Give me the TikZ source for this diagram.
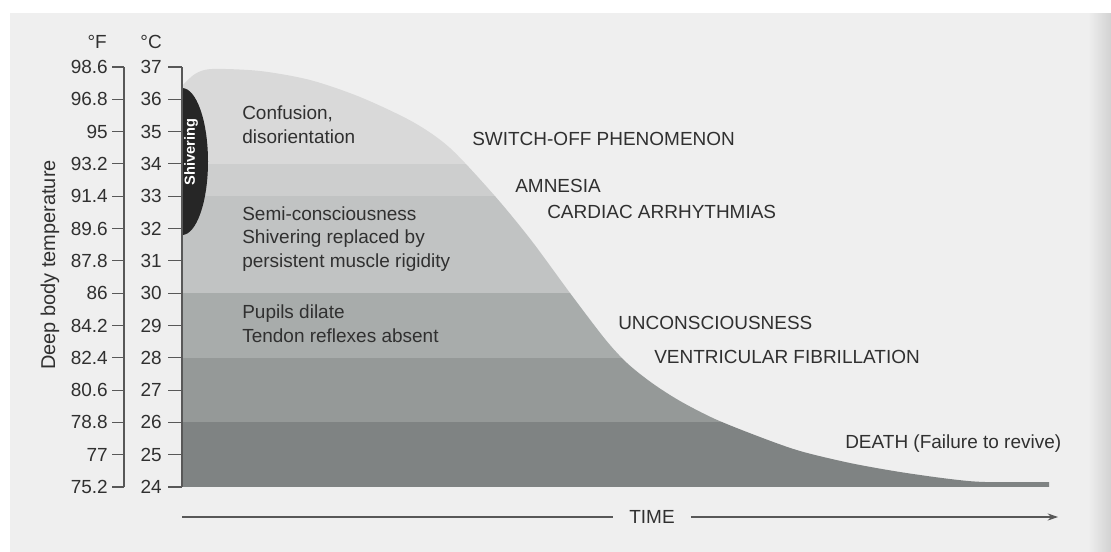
\documentclass[tikz,border=0pt]{standalone}
\usepackage{fontspec}
\setmainfont{Liberation Sans}
\usetikzlibrary{arrows.meta}

\definecolor{paper}{HTML}{EFEFEF}
\definecolor{edgegray}{HTML}{D2D2D2}
\definecolor{ink}{HTML}{303030}
\definecolor{axisgray}{HTML}{585858}
\definecolor{bandA}{HTML}{D9D9D9}
\definecolor{bandB}{HTML}{CDCECE}
\definecolor{bandC}{HTML}{C1C3C3}
\definecolor{bandD}{HTML}{A8ACAB}
\definecolor{bandE}{HTML}{959998}
\definecolor{bandF}{HTML}{7F8383}

\begin{document}
\begin{tikzpicture}[
    x=0.025cm,
    y=-0.025cm,
    >={Stealth[length=2.6mm,width=1.8mm]},
    font=\fontsize{13.5}{16.7}\selectfont,
    text=ink,
    axisline/.style={
        draw=axisgray,
        line width=0.8pt
    },
    tempnum/.style={
        inner sep=0pt,
        anchor=east
    },
    phase/.style={
        inner sep=0pt,
        anchor=base west,
        align=left
    },
    event/.style={
        inner sep=0pt,
        anchor=base west
    }]

% Papier
\useasboundingbox (0,0) rectangle (1111,552);
\fill[white] (0,0) rectangle (1111,552);
\fill[paper] (10,13) rectangle (1111,552);
\fill[left color=paper, right color=edgegray] (1088,13) rectangle (1111,552);


% Temperatuurbanden onder de curve
\begin{scope}
\clip plot[smooth] coordinates {
    (182,86) (195,74) (212,69) (260,71) (310,80) (360,97)
    (413,122) (450,148) (494,195) (531,240) (570,293) (605,339)
    (627,363) (652,383) (680,401) (715,419) (760,437) (800,451)
    (850,463) (900,472) (950,479) (985,482) (1049,482)}
    -- (1049,487) -- (182,487) -- cycle;
\fill[bandA] (182,60) rectangle (1060,164);
\fill[bandB] (182,164) rectangle (1060,196);
\fill[bandC] (182,196) rectangle (1060,293);
\fill[bandD] (182,293) rectangle (1060,358);
\fill[bandE] (182,358) rectangle (1060,422);
\fill[bandF] (182,422) rectangle (1060,487);
\end{scope}


% Rillen
\begin{scope}
\clip (182,80) rectangle (240,240);
\fill[black!85] (182,161.5) ellipse [x radius=26, y radius=73.5];
\end{scope}

\node[
    rotate=90,
    text=white,
    font=\fontsize{10.4}{12}\selectfont\bfseries
] (shiver) at (191,152)
{Shivering};


% Assen
\node[tempnum] (unitF) at (107,42) {°F};
\node[tempnum] (unitC) at (162,42) {°C};

\draw[axisline] (124,67) -- (124,487);
\draw[axisline] (182,67) -- (182,487);

\foreach \c/\f [count=\k from 0] in {
    37/98.6, 36/96.8, 35/95, 34/93.2, 33/91.4, 32/89.6, 31/87.8,
    30/86, 29/84.2, 28/82.4, 27/80.6, 26/78.8, 25/77, 24/75.2}
{
    \draw[axisline] (112,{67+32.31*\k}) -- (124,{67+32.31*\k});
    \draw[axisline] (168,{67+32.31*\k}) -- (182,{67+32.31*\k});
    \node[tempnum] (F\k) at (108,{67+32.31*\k}) {\f};
    \node[tempnum] (C\k) at (162,{67+32.31*\k}) {\c};
}

\node[
    rotate=90,
    font=\fontsize{14.2}{17}\selectfont
] (ytitle) at (50,265)
{Deep body temperature};


% Symptomen links (basis = laatste regel)
\node[phase] (confusion) at (242,143)
{Confusion,\\disorientation};

\node[phase] (semi) at (242,267)
{Semi-consciousness\\Shivering replaced by\\persistent muscle rigidity};

\node[phase] (pupils) at (242,342)
{Pupils dilate\\Tendon reflexes absent};


% Symptomen rechts
\node[event] (switchoff) at (472,145) {SWITCH-OFF PHENOMENON};
\node[event] (amnesia) at (515,192) {AMNESIA};
\node[event] (cardiac) at (547,218) {CARDIAC ARRHYTHMIAS};
\node[event] (uncons) at (618,329) {UNCONSCIOUSNESS};
\node[event] (ventric) at (654,363) {VENTRICULAR FIBRILLATION};
\node[event] (death) at (845,448) {DEATH (Failure to revive)};


% Tijdas
\coordinate (origin) at (182,517);
\coordinate (timeend) at (1058,517);

\node[inner xsep=0.4cm, inner ysep=0pt] (time) at (652,517) {TIME};

\draw[axisline] (origin) -- (time.west);
\draw[axisline, ->] (time.east) -- (timeend);

\end{tikzpicture}
\end{document}
